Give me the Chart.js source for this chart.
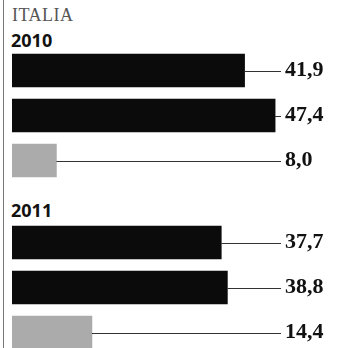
<!DOCTYPE html>
<html>
<head>
<meta charset="utf-8">
<script src="https://cdn.jsdelivr.net/npm/chart.js@4"></script>
<style>
  body { margin: 0; width: 339px; height: 348px; overflow: hidden; background: #fff; position: relative; }
  #edge { position: absolute; left: 3px; top: 0; width: 1px; height: 348px; background: #777; }
  .title { position: absolute; left: 12px; top: 5px; font: 18px "Liberation Serif", serif; letter-spacing: 0.5px; color: #555; }
  .year { position: absolute; left: 11px; font: bold 18px "Open Sans", sans-serif; color: #111; }
  canvas { position: absolute; left: 0; }
</style>
</head>
<body>
<div id="edge"></div>
<div class="title">ITALIA</div>
<div class="year" style="top:28px">2010</div>
<div class="year" style="top:198px">2011</div>
<div style="position:absolute;left:0;top:48px;width:339px;height:135px"><canvas id="c2010"></canvas></div>
<div style="position:absolute;left:0;top:220px;width:339px;height:135px"><canvas id="c2011"></canvas></div>
<script>
const years = ['2010', '2011'];
const rows = ['1', '2', '3'];
const values2010 = [41.9, 47.4, 8.0];
const values2011 = [37.7, 38.8, 14.4];
const barColors = ['#0b0b0b', '#0b0b0b', '#ababab'];

// leader line + value label at the right of each bar
const leaderLabels = {
    id: 'leaderLabels',
    afterDatasetsDraw(chart) {
        const ctx = chart.ctx;
        const meta = chart.getDatasetMeta(0);
        const data = chart.data.datasets[0].data;
        const right = chart.chartArea.right;
        ctx.save();
        meta.data.forEach((bar, i) => {
            ctx.strokeStyle = '#333';
            ctx.lineWidth = 1;
            ctx.beginPath();
            ctx.moveTo(bar.x, Math.round(bar.y) + 0.5);
            ctx.lineTo(right - 3, Math.round(bar.y) + 0.5);
            ctx.stroke();
            ctx.fillStyle = '#111';
            ctx.font = 'bold 22px "Liberation Serif", serif';
            ctx.textAlign = 'left';
            ctx.textBaseline = 'middle';
            ctx.fillText(data[i].toFixed(1).replace('.', ','), right + 1, bar.y);
        });
        ctx.restore();
    }
};

function makeChart(id, values) {
    const ctx = document.getElementById(id).getContext('2d');
    return new Chart(ctx, {
        type: 'bar',
        data: {
            labels: rows,
            datasets: [
                {
                    data: values,
                    backgroundColor: barColors,
                    borderWidth: 0,
                    barThickness: 33,
                },
            ],
        },
        options: {
            indexAxis: 'y',
            responsive: true,
            maintainAspectRatio: false,
            animation: false,
            layout: { padding: { left: 12, right: 55, top: 0, bottom: 0 } },
            plugins: { legend: { display: false }, tooltip: { enabled: false } },
            scales: {
                x: { min: 0, max: 49, display: false },
                y: { display: false },
            },
        },
        plugins: [leaderLabels],
    });
}

makeChart('c2010', values2010);
makeChart('c2011', values2011);
</script>
</body>
</html>
